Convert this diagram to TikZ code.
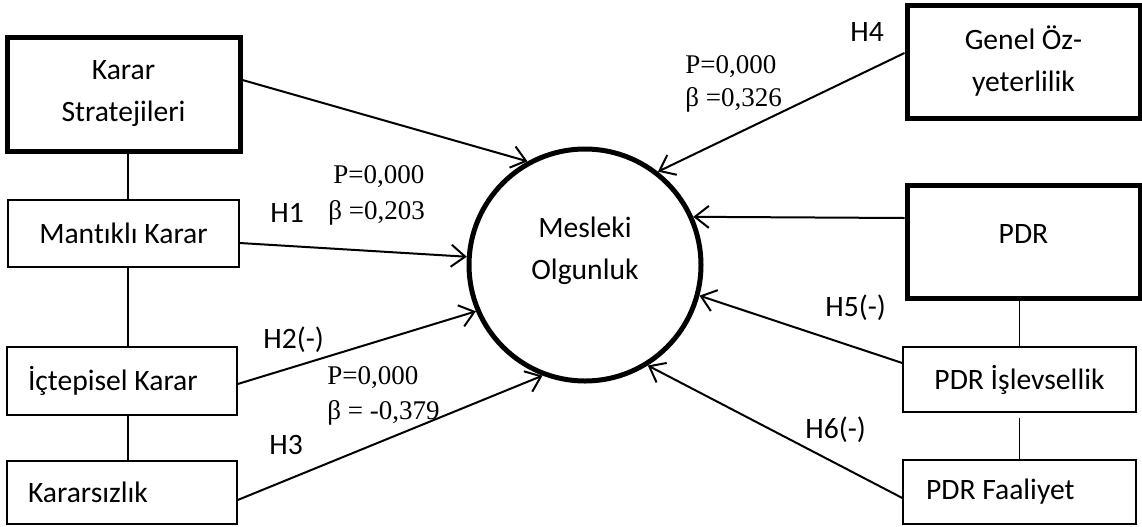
\documentclass[tikz,border=0pt]{standalone}
\usepackage{fontspec}
\setmainfont[Ligatures=NoCommon]{Carlito}
\newfontfamily\numfont{Liberation Serif}
\usetikzlibrary{arrows.meta}

\begin{document}
\begin{tikzpicture}[x=0.5pt,y=-0.5pt,
    kutu/.style={draw,line width=0.7pt,inner sep=0pt,align=center,
        font=\fontsize{14.8}{21}\selectfont},
    kalin/.style={kutu,line width=2.5pt},
    solkutu/.style={kutu,align=flush left,inner xsep=10.5pt},
    yol/.style={-{Straight Barb[length=7pt,width=11pt]},line width=1pt},
    bag/.style={line width=0.6pt},
    etiket/.style={font=\fontsize{14.8}{17}\selectfont,inner sep=0pt,anchor=west},
    deger/.style={font=\numfont\fontsize{13.5}{17}\selectfont,inner sep=0pt,anchor=west}]
    \useasboundingbox (0,0) rectangle (1142,526) ;
    %%  \draw[very thin,gray,step=50] (0,0) grid (1142,526) ;
         % left side
         \node[kalin,minimum width=116.5pt,minimum height=57pt] (strat) at (123.5,94) {Karar\\Stratejileri} ;
         \node[kutu,minimum width=115.5pt,minimum height=33.5pt] (mantik) at (123.5,233.5) {Mantıklı Karar} ;
         \node[solkutu,text width=94pt,minimum height=34pt] (ictep) at (122,381) {İçtepisel Karar} ;
         \node[solkutu,text width=94pt,minimum height=31.5pt] (karars) at (122,492.5) {Kararsızlık} ;
         % right side
         \node[kalin,minimum width=116.5pt,minimum height=56.5pt] (genel) at (1023.5,61.5) {Genel Öz-\\yeterlilik} ;
         \node[kalin,minimum width=116.5pt,minimum height=56.5pt,text depth=8pt] (pdr) at (1023.5,241.5) {PDR} ;
         \node[kutu,minimum width=116.5pt,minimum height=32.5pt] (islev) at (1019.5,379.5) {PDR İşlevsellik} ;
         \node[solkutu,inner xsep=11.5pt,text width=93.5pt,minimum height=32pt] (faal) at (1019.5,492) {PDR Faaliyet} ;
         % centre
         \node[draw,circle,line width=2.5pt,minimum size=116pt,align=center,text depth=17pt,
             font=\fontsize{14.8}{21}\selectfont] (mo) at (585,265) {Mesleki\\Olgunluk} ;
         \draw[bag] ([xshift=2.25pt]strat.south) -- ([xshift=2.25pt]strat.south |- mantik.north) ;
         \draw[bag] ([xshift=2.25pt]mantik.south) -- ([xshift=2.25pt]mantik.south |- ictep.north) ;
         \draw[bag] ([xshift=3pt]ictep.south) -- ([xshift=3pt]ictep.south |- karars.north) ;
         \draw[bag] (pdr.south -| islev.north) -- (islev.north) ;
         \draw[bag] ([yshift=-2.5pt]islev.south) -- (faal.north) ;
         \draw[yol] ([yshift=7pt]strat.east) -- (mo.119) ;
         \draw[yol] ([yshift=-4.75pt]mantik.east) -- (mo.176) ;
         \draw[yol] ([yshift=-1.5pt]ictep.east) -- (mo.203.5) ;
         \draw[yol] ([yshift=-3.75pt]karars.east) -- (mo.249.5) ;
         \draw[yol] ([yshift=4.25pt]genel.west) -- (mo.52.5) ;
         \draw[yol] ([yshift=11.75pt]pdr.west) -- (mo.24) ;
         \draw[yol] ([yshift=8.25pt]islev.west) -- (mo.-15.8) ;
         \draw[yol] ([yshift=-3pt]faal.west) -- (mo.-58.2) ;
         % labels
         \node[etiket] (h1) at (270,213) {H1} ;
         \node[deger] (p1) at (333,177) {P=0,000} ;
         \node[deger] (b1) at (328,213) {β =0,203} ;
         \node[etiket] (h2) at (263,340) {H2(-)} ;
         \node[deger] (p3) at (327,378) {P=0,000} ;
         \node[deger] (b3) at (327,413) {β = -0,379} ;
         \node[etiket] (h3) at (269,445) {H3} ;
         \node[etiket] (h4) at (850,32) {H4} ;
         \node[deger] (p4) at (685,67) {P=0,000} ;
         \node[deger] (b4) at (685,100) {β =0,326} ;
         \node[etiket] (h5) at (825,308) {H5(-)} ;
         \node[etiket] (h6) at (805,430) {H6(-)} ;
       \end{tikzpicture}
\end{document}
